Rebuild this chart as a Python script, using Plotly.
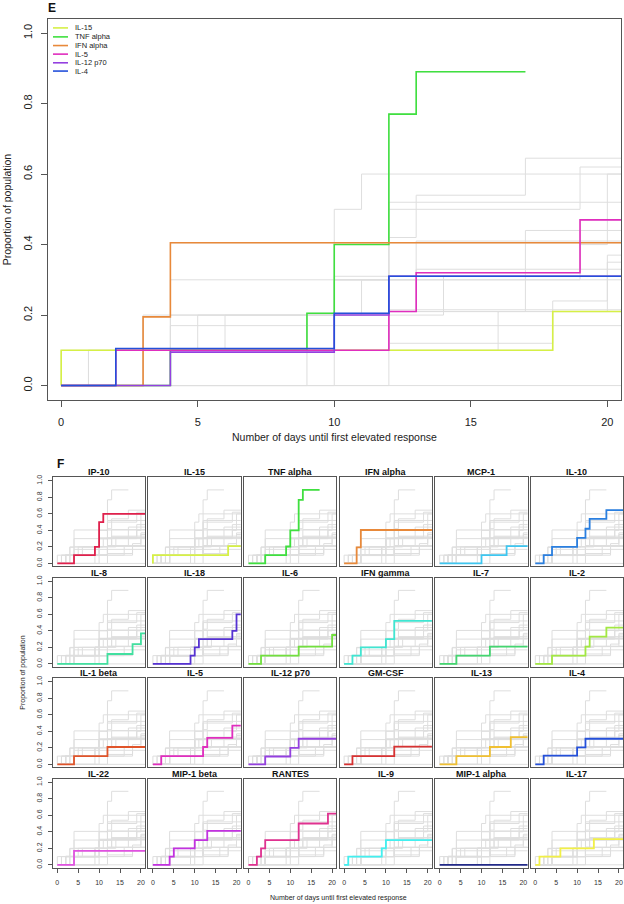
import plotly.graph_objects as go

W, H = 624, 904
FONT = "Liberation Sans, Arial, sans-serif"

# ---------------- data ----------------
CYTOKINES = ["IP-10", "IL-15", "TNF alpha", "IFN alpha", "MCP-1", "IL-10",
             "IL-8", "IL-18", "IL-6", "IFN gamma", "IL-7", "IL-2",
             "IL-1 beta", "IL-5", "IL-12 p70", "GM-CSF", "IL-13", "IL-4",
             "IL-22", "MIP-1 beta", "RANTES", "IL-9", "MIP-1 alpha", "IL-17"]

# day of each step, and cumulative proportion of population reached at that day
IP10_DAYS = [0, 4, 9, 10, 11]
IP10_PROP = [0, 0.10, 0.20, 0.50, 0.60]
IL15_DAYS = [0, 0.001, 18]
IL15_PROP = [0, 0.10, 0.21]
TNFA_DAYS = [0, 4, 9, 10, 12, 13]
TNFA_PROP = [0, 0.10, 0.205, 0.40, 0.77, 0.89]
IFNA_DAYS = [0, 3, 4]
IFNA_PROP = [0, 0.195, 0.405]
MCP1_DAYS = [0, 10, 16]
MCP1_PROP = [0, 0.10, 0.21]
IL10_DAYS = [0, 2, 4, 10, 12, 13, 17]
IL10_PROP = [0, 0.10, 0.20, 0.31, 0.42, 0.54, 0.645]
IL8_DAYS = [0, 12, 18, 20]
IL8_PROP = [0, 0.12, 0.24, 0.37]
IL18_DAYS = [0, 9, 10, 11, 19, 20]
IL18_PROP = [0, 0.10, 0.20, 0.30, 0.40, 0.60]
IL6_DAYS = [0, 3, 12, 20]
IL6_PROP = [0, 0.10, 0.21, 0.35]
IFNG_DAYS = [0, 2, 4, 10, 12]
IFNG_PROP = [0, 0.10, 0.20, 0.30, 0.52]
IL7_DAYS = [0, 4, 12]
IL7_PROP = [0, 0.10, 0.21]
IL2_DAYS = [0, 4, 12, 13, 17]
IL2_PROP = [0, 0.10, 0.21, 0.33, 0.44]
IL1B_DAYS = [0, 4, 12]
IL1B_PROP = [0, 0.10, 0.21]
IL5_DAYS = [0, 2, 12, 13, 19]
IL5_PROP = [0, 0.10, 0.21, 0.32, 0.47]
IL12_DAYS = [0, 4, 10, 12]
IL12_PROP = [0, 0.095, 0.20, 0.31]
GMCSF_DAYS = [0, 2, 12]
GMCSF_PROP = [0, 0.10, 0.215]
IL13_DAYS = [0, 4, 12, 17]
IL13_PROP = [0, 0.10, 0.21, 0.33]
IL4_DAYS = [0, 2, 10, 12]
IL4_PROP = [0, 0.105, 0.205, 0.31]
IL22_DAYS = [0, 4]
IL22_PROP = [0, 0.17]
MIP1B_DAYS = [0, 4, 5, 10, 13]
MIP1B_PROP = [0, 0.10, 0.20, 0.30, 0.41]
RANTES_DAYS = [0, 2, 3, 4, 12, 19]
RANTES_PROP = [0, 0.10, 0.20, 0.30, 0.50, 0.62]
IL9_DAYS = [0, 1, 9, 10]
IL9_PROP = [0, 0.10, 0.20, 0.30]
MIP1A_DAYS = [0]
MIP1A_PROP = [0]
IL17_DAYS = [0, 1, 6, 14]
IL17_PROP = [0, 0.10, 0.20, 0.31]

# last day of follow-up for each curve
LAST_DAY = [21.5, 21.5, 17, 21.5, 21.5, 21.5,
            21.5, 21.5, 21.5, 21.5, 21.5, 21.5,
            21.5, 21.5, 21.5, 21.5, 21.5, 21.5,
            21.5, 21.5, 21.5, 21.5, 21.5, 21.5]

COLORS = ["#E0204C", "#D6F046", "#3FE03F", "#E8893A", "#3EC6F0", "#2A7FE0",
          "#42E0A0", "#5632D2", "#72E03E", "#40E6D2", "#44D670", "#A2E842",
          "#E0542A", "#E02EBE", "#9440E0", "#D83232", "#F0C032", "#2450DA",
          "#E052E0", "#C232E0", "#E03290", "#42F0F0", "#222A88", "#F2F046"]

HIGHLIGHT_E = ["IL-15", "TNF alpha", "IFN alpha", "IL-5", "IL-12 p70", "IL-4"]

DAYS = [IP10_DAYS, IL15_DAYS, TNFA_DAYS, IFNA_DAYS, MCP1_DAYS, IL10_DAYS,
        IL8_DAYS, IL18_DAYS, IL6_DAYS, IFNG_DAYS, IL7_DAYS, IL2_DAYS,
        IL1B_DAYS, IL5_DAYS, IL12_DAYS, GMCSF_DAYS, IL13_DAYS, IL4_DAYS,
        IL22_DAYS, MIP1B_DAYS, RANTES_DAYS, IL9_DAYS, MIP1A_DAYS, IL17_DAYS]
PROPS = [IP10_PROP, IL15_PROP, TNFA_PROP, IFNA_PROP, MCP1_PROP, IL10_PROP,
         IL8_PROP, IL18_PROP, IL6_PROP, IFNG_PROP, IL7_PROP, IL2_PROP,
         IL1B_PROP, IL5_PROP, IL12_PROP, GMCSF_PROP, IL13_PROP, IL4_PROP,
         IL22_PROP, MIP1B_PROP, RANTES_PROP, IL9_PROP, MIP1A_PROP, IL17_PROP]

XTICKS = [0, 5, 10, 15, 20]
YTICKS = [0.0, 0.2, 0.4, 0.6, 0.8, 1.0]
YTICKTEXT = ["0.0", "0.2", "0.4", "0.6", "0.8", "1.0"]


def step_xy(i):
    xs = list(DAYS[i]) + [LAST_DAY[i]]
    ys = list(PROPS[i]) + [PROPS[i][-1]]
    return xs, ys


GRAY_X, GRAY_Y = [], []
for i in range(len(CYTOKINES)):
    xs, ys = step_xy(i)
    GRAY_X += xs + [None]
    GRAY_Y += ys + [None]

# ---------------- layout helpers (pixel -> paper) ----------------
def xdom(left, width):
    return [left / W, (left + width) / W]


def ydom(top, height):
    return [1 - (top + height) / H, 1 - top / H]


fig = go.Figure()
layout = dict(width=W, height=H, margin=dict(l=0, r=0, t=0, b=0),
              paper_bgcolor="white", plot_bgcolor="white", showlegend=False,
              font=dict(family=FONT, color="#222"))

GRAY = "#DEDEDE"
AXC = "#555555"

# ---------------- panel E ----------------
E_L, E_R, E_T, E_B = 47.5, 621.0, 17.0, 399.0
fig.add_trace(go.Scatter(x=GRAY_X, y=GRAY_Y, mode="lines", line_shape="hv",
                         line=dict(color=GRAY, width=1), hoverinfo="skip",
                         xaxis="x", yaxis="y"))
for name in HIGHLIGHT_E:
    i = CYTOKINES.index(name)
    xs, ys = step_xy(i)
    fig.add_trace(go.Scatter(x=xs, y=ys, mode="lines", line_shape="hv",
                             line=dict(color=COLORS[i], width=1.6), name=name,
                             xaxis="x", yaxis="y"))

layout["xaxis"] = dict(domain=xdom(E_L, E_R - E_L), range=[-0.5, 20.5],
                       tickvals=XTICKS, ticks="outside", ticklen=6, tickcolor=AXC,
                       showline=True, mirror=True, linecolor=AXC, linewidth=1,
                       showgrid=False, zeroline=False, anchor="y",
                       tickfont=dict(size=11, color="#222"), ticklabelstandoff=6)
layout["yaxis"] = dict(domain=ydom(E_T, E_B - E_T), range=[-0.04, 1.04],
                       tickvals=YTICKS, ticktext=YTICKTEXT, tickangle=-90,
                       ticks="outside", ticklen=6, tickcolor=AXC,
                       showline=True, mirror=True, linecolor=AXC, linewidth=1,
                       showgrid=False, zeroline=False, anchor="x",
                       tickfont=dict(size=11, color="#222"), ticklabelstandoff=4)

annotations = []
shapes = []
annotations.append(dict(text="<b>E</b>", x=52 / W, y=1 - 6 / H, xref="paper", yref="paper",
                        showarrow=False, xanchor="center", yanchor="middle",
                        font=dict(size=12, color="#111")))
annotations.append(dict(text="Proportion of population", x=7 / W, y=1 - 208 / H,
                        xref="paper", yref="paper", showarrow=False, textangle=-90,
                        xanchor="center", yanchor="middle", font=dict(size=10.5)))
annotations.append(dict(text="Number of days until first elevated response",
                        x=334 / W, y=1 - 436 / H, xref="paper", yref="paper",
                        showarrow=False, xanchor="center", yanchor="middle",
                        font=dict(size=10.5)))

# legend of panel E
LEG_Y = [26, 35, 43.7, 52.3, 61, 69.3]
for k, name in enumerate(HIGHLIGHT_E):
    i = CYTOKINES.index(name)
    yy = 1 - LEG_Y[k] / H
    shapes.append(dict(type="line", xref="paper", yref="paper",
                       x0=53 / W, x1=68 / W, y0=yy, y1=yy,
                       line=dict(color=COLORS[i], width=1.6)))
    annotations.append(dict(text=name, x=73 / W, y=yy, xref="paper", yref="paper",
                            showarrow=False, xanchor="left", yanchor="middle",
                            font=dict(size=7.5, color="#222")))

# ---------------- panel F ----------------
F_LEFT0, F_PITCHX, F_W = 52.7, 95.6, 92.4
F_TOP0, F_PITCHY, F_H = 476.7, 100.8, 89.5
NCOL, NROW = 6, 4

for k, name in enumerate(CYTOKINES):
    r, c = divmod(k, NCOL)
    ax = k + 2
    xa, ya = f"x{ax}", f"y{ax}"
    left = F_LEFT0 + c * F_PITCHX
    top = F_TOP0 + r * F_PITCHY
    fig.add_trace(go.Scatter(x=GRAY_X, y=GRAY_Y, mode="lines", line_shape="hv",
                             line=dict(color=GRAY, width=1), hoverinfo="skip",
                             xaxis=xa, yaxis=ya))
    xs, ys = step_xy(k)
    fig.add_trace(go.Scatter(x=xs, y=ys, mode="lines", line_shape="hv",
                             line=dict(color=COLORS[k], width=1.8), name=name,
                             xaxis=xa, yaxis=ya))
    show_x = (r == NROW - 1)
    show_y = (c == 0)
    layout[f"xaxis{ax}"] = dict(domain=xdom(left, F_W), range=[-1.1, 21.0],
                                tickvals=XTICKS, ticks="outside" if show_x else "",
                                ticklen=4, tickcolor=AXC, showticklabels=show_x,
                                showline=True, mirror=True, linecolor=AXC, linewidth=1.3,
                                showgrid=False, zeroline=False, anchor=ya,
                                tickfont=dict(size=7, color="#333"), ticklabelstandoff=4)
    layout[f"yaxis{ax}"] = dict(domain=ydom(top, F_H), range=[-0.035, 1.045],
                                tickvals=YTICKS, ticktext=YTICKTEXT, tickangle=-90,
                                ticks="outside" if show_y else "", ticklen=4,
                                tickcolor=AXC, showticklabels=show_y,
                                showline=True, mirror=True, linecolor=AXC, linewidth=1.3,
                                showgrid=False, zeroline=False, anchor=xa,
                                tickfont=dict(size=7, color="#333"), ticklabelstandoff=3)
    annotations.append(dict(text=f"<b>{name}</b>", x=(left + F_W / 2) / W,
                            y=1 - (top - 5) / H, xref="paper", yref="paper",
                            showarrow=False, xanchor="center", yanchor="middle",
                            font=dict(size=9, color="#111")))

annotations.append(dict(text="<b>F</b>", x=60 / W, y=1 - 464 / H, xref="paper", yref="paper",
                        showarrow=False, xanchor="center", yanchor="middle",
                        font=dict(size=12, color="#111")))
annotations.append(dict(text="Proportion of population", x=23 / W, y=1 - 673 / H,
                        xref="paper", yref="paper", showarrow=False, textangle=-90,
                        xanchor="center", yanchor="middle", font=dict(size=7)))
annotations.append(dict(text="Number of days until first elevated response",
                        x=338 / W, y=1 - 899 / H, xref="paper", yref="paper",
                        showarrow=False, xanchor="center", yanchor="middle",
                        font=dict(size=7)))

layout["annotations"] = annotations
layout["shapes"] = shapes
fig.update_layout(**layout)
fig.write_html("out.html", config={"displayModeBar": False},
               post_script="document.body.style.margin='0px';document.body.style.overflow='hidden';")
